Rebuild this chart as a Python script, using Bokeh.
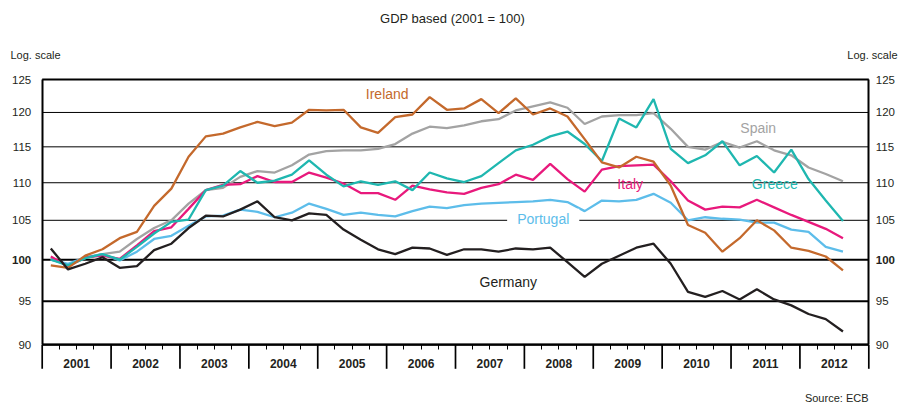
import math
from bokeh.plotting import figure
from bokeh.models import (FixedTicker, LogAxis, LinearAxis, Range1d, Label,
                          PrintfTickFormatter, ColumnDataSource)
from bokeh.embed import file_html
from bokeh.resources import INLINE

# ---------------- data ----------------
years = list(range(2001, 2013))
quarters = [1, 2, 3, 4]
n_obs = 47  # 2001Q1 .. 2012Q3

germany = [101.4, 98.8, 99.5, 100.3, 99.0, 99.2, 101.2, 102.0, 104.0, 105.6,
           105.5, 106.4, 107.5, 105.4, 105.0, 105.9, 105.7, 103.8, 102.5, 101.3,
           100.7, 101.5, 101.4, 100.6, 101.3, 101.3, 101.0, 101.4, 101.3, 101.5,
           99.7, 97.9, 99.5, 100.5, 101.5, 102.0, 99.5, 96.1, 95.5, 96.2,
           95.2, 96.4, 95.2, 94.5, 93.5, 92.9, 91.5]
ireland = [99.3, 99.0, 100.5, 101.3, 102.7, 103.5, 106.9, 109.2, 113.6, 116.5,
           116.9, 117.8, 118.6, 118.0, 118.5, 120.4, 120.3, 120.4, 117.8, 117.0,
           119.3, 119.7, 122.3, 120.4, 120.6, 122.0, 119.9, 122.1, 119.7, 120.6,
           119.4, 116.1, 112.8, 112.1, 113.6, 112.9, 109.6, 104.4, 103.4, 101.0,
           102.7, 105.0, 103.7, 101.5, 101.1, 100.4, 98.7]
spain = [100.1, 99.3, 100.2, 100.7, 101.0, 102.6, 104.0, 105.0, 107.2, 109.0,
         109.3, 110.8, 111.6, 111.4, 112.4, 113.9, 114.4, 114.5, 114.5, 114.7,
         115.4, 116.9, 117.9, 117.7, 118.1, 118.7, 119.0, 120.3, 120.9, 121.5,
         120.7, 118.3, 119.4, 119.6, 119.6, 119.9, 117.6, 115.0, 114.6, 115.7,
         114.9, 115.8, 114.5, 113.8, 112.1, 111.2, 110.2]
greece = [100.0, 99.3, 100.2, 100.7, 100.0, 101.6, 103.3, 104.8, 105.1, 109.0,
          109.6, 111.6, 110.0, 110.3, 111.1, 113.1, 111.1, 109.5, 110.2, 109.7,
          110.2, 109.0, 111.4, 110.6, 110.1, 110.9, 112.7, 114.5, 115.3, 116.5,
          117.2, 115.4, 113.0, 119.1, 117.8, 122.0, 114.7, 112.7, 113.8, 115.8,
          112.4, 113.7, 111.4, 114.6, 110.5, 107.6, 104.9]
italy = [100.4, 99.2, 100.3, 100.5, 100.1, 101.8, 103.6, 104.1, 106.5, 109.0,
         109.7, 109.8, 110.9, 110.1, 110.1, 111.4, 110.7, 109.9, 108.6, 108.6,
         107.7, 109.6, 109.1, 108.7, 108.5, 109.3, 109.8, 111.1, 110.4, 112.6,
         110.5, 108.8, 111.8, 112.3, 112.4, 112.5, 110.2, 107.6, 106.4, 106.8,
         106.7, 107.7, 106.7, 105.7, 104.8, 103.9, 102.7]
portugal = [100.0, 99.5, 100.3, 100.7, 99.9, 101.0, 102.6, 103.0, 104.3, 105.5,
            105.6, 106.4, 106.1, 105.4, 106.0, 107.2, 106.5, 105.7, 106.0, 105.7,
            105.5, 106.2, 106.8, 106.6, 107.0, 107.2, 107.3, 107.4, 107.5, 107.7,
            107.4, 106.2, 107.6, 107.5, 107.7, 108.5, 107.3, 105.0, 105.4, 105.2,
            105.1, 104.7, 104.7, 103.8, 103.5, 101.6, 101.0]

y_ticks = [90, 95, 100, 105, 110, 115, 120, 125]
base_value = 100
heavy_lines = [90, 95, 100, 125]
title_text = "GDP based (2001 = 100)"
source_text = "Source: ECB"
scale_text = "Log. scale"

names = ["Spain", "Portugal", "Italy", "Greece", "Ireland", "Germany"]
values = [spain, portugal, italy, greece, ireland, germany]
colors = ["#A3A3A3", "#5DBDEA", "#E8197C", "#1FB7B0", "#C4692C", "#231F20"]

# ---------------- layout (pixels) ----------------
W, H = 903, 405
BOX_L, BOX_R, BOX_T, BOX_B = 41.7, 868.3, 79.0, 344.3
label_px = {"Spain": (757.7, 127.5), "Portugal": (542.7, 218.3), "Italy": (629.7, 183.0),
            "Greece": (774.3, 183.0), "Ireland": (386.7, 93.8), "Germany": (507.8, 281.7)}
TEXT = "#231F20"
FONT = "Liberation Sans"

px_per_year = (BOX_R - BOX_L) / len(years)
px_per_log = (BOX_B - BOX_T) / math.log(y_ticks[-1] / y_ticks[0])


def xd(px):
    return years[0] + (px - BOX_L) / px_per_year


def yd(py):
    return y_ticks[-1] * math.exp(-(py - BOX_T) / px_per_log)


periods = [(yr, q) for yr in years for q in quarters][:n_obs]
xq = [yr + (q - 0.5) / 4.0 for yr, q in periods]
x_first, x_last = years[0], years[-1] + 1

p = figure(width=W, height=H, x_range=Range1d(xd(0), xd(W)), y_range=Range1d(yd(H), yd(0)),
           y_axis_type="log", x_axis_location=None, y_axis_location=None, title=None,
           output_backend="svg", toolbar_location=None,
           min_border_left=0, min_border_right=0, min_border_top=0, min_border_bottom=0)
p.background_fill_color = "white"
p.border_fill_color = "white"
p.outline_line_color = None
p.grid.visible = False

# horizontal grid / box lines
grid_src = ColumnDataSource(dict(x0=[x_first] * len(y_ticks), x1=[x_last] * len(y_ticks),
                                 y=y_ticks,
                                 w=[2.0 if v in heavy_lines else 1.0 for v in y_ticks]))
p.segment(x0="x0", y0="y", x1="x1", y1="y", line_width="w", line_color="black", source=grid_src)

# year separators hanging below the 90 line
sep_x = list(range(x_first, x_last + 1))
p.ray(x=sep_x, y=[y_ticks[0]] * len(sep_x), length=24, length_units="screen",
      angle=-90, angle_units="deg", line_color="black", line_width=1.7)

# x axis on the 90 line: quarter ticks + year labels at year centres
centres = [yr + 0.5 for yr in years]
xa = LinearAxis(fixed_location=y_ticks[0], bounds=(x_first, x_last))
xa.ticker = FixedTicker(ticks=centres,
                        minor_ticks=[x_first + k / 4.0 for k in range(len(years) * 4 + 1)])
xa.major_label_overrides = {c: str(yr) for c, yr in zip(centres, years)}
xa.major_tick_in = 0
xa.major_tick_out = 0
xa.major_tick_line_color = None
xa.minor_tick_in = 0
xa.minor_tick_out = 5
xa.minor_tick_line_color = "black"
xa.axis_line_color = "black"
xa.axis_line_width = 2
xa.major_label_standoff = 9
xa.major_label_text_font = FONT
xa.major_label_text_font_size = "12px"
xa.major_label_text_font_style = "bold"
xa.major_label_text_color = TEXT
p.add_layout(xa, "below")


def make_y(loc, standoff):
    ax = LogAxis(fixed_location=loc, bounds=(y_ticks[0], y_ticks[-1]))
    ax.ticker = FixedTicker(ticks=[v for v in y_ticks if v != base_value])
    ax.formatter = PrintfTickFormatter(format="%d")
    ax.major_tick_in = 0
    ax.major_tick_out = 0
    ax.minor_tick_line_color = None
    ax.axis_line_color = "black"
    ax.axis_line_width = 2
    ax.major_label_standoff = standoff
    ax.major_label_text_font = FONT
    ax.major_label_text_font_size = "11.5px"
    ax.major_label_text_color = TEXT
    return ax


p.add_layout(make_y(x_first, 11), "left")
p.add_layout(make_y(x_last, 7), "right")

# bold 100 on both sides
p.add_layout(Label(x=xd(BOX_L - 11), y=base_value, text=str(base_value), text_align="right",
                   text_baseline="middle", text_font=FONT, text_font_size="11.5px",
                   text_font_style="bold", text_color=TEXT))
p.add_layout(Label(x=xd(BOX_R + 7), y=base_value, text=str(base_value), text_align="left",
                   text_baseline="middle", text_font=FONT, text_font_size="11.5px",
                   text_font_style="bold", text_color=TEXT))

# series
src = ColumnDataSource(dict(x=xq, **{n.lower(): v for n, v in zip(names, values)}))
for n, c in zip(names, colors):
    p.line("x", n.lower(), source=src, line_color=c, line_width=2.3)

for n, c in zip(names, colors):
    lx, ly = label_px[n]
    lab = Label(x=xd(lx), y=yd(ly), text=n, text_color=c, text_font=FONT,
                text_font_size="14px", text_align="center", text_baseline="middle")
    if n == "Portugal":
        lab.background_fill_color = "white"
        try:
            lab.padding = dict(left=10, right=10, top=2, bottom=2)
        except Exception:
            lab.padding = 4
    p.add_layout(lab)

# titles and notes
p.add_layout(Label(x=xd(452), y=yd(18), text=title_text, text_align="center",
                   text_baseline="middle", text_font=FONT, text_font_size="13px", text_color=TEXT))
p.add_layout(Label(x=xd(10), y=yd(54), text=scale_text, text_align="left",
                   text_baseline="middle", text_font=FONT, text_font_size="11px", text_color=TEXT))
p.add_layout(Label(x=xd(897), y=yd(54), text=scale_text, text_align="right",
                   text_baseline="middle", text_font=FONT, text_font_size="11px", text_color=TEXT))
p.add_layout(Label(x=xd(868), y=yd(397), text=source_text, text_align="right",
                   text_baseline="middle", text_font=FONT, text_font_size="11px", text_color=TEXT))

open("out.html", "w").write(file_html(p, INLINE))
